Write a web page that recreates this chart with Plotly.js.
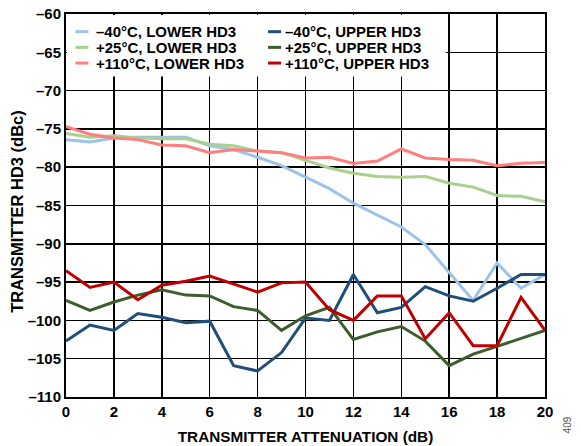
<!DOCTYPE html>
<html><head><meta charset="utf-8">
<script src="https://cdn.plot.ly/plotly-3.0.1.min.js"></script>
<style>html,body{margin:0;padding:0;background:#fff}#chart{width:581px;height:446px}</style>
</head><body><div id="chart"></div>
<script>
const attenuation = [0,1,2,3,4,5,6,7,8,9,10,11,12,13,14,15,16,17,18,19,20];
const lowerM40 = [-76.4,-76.7,-76.2,-76.1,-76.1,-76.1,-77.2,-77.7,-78.7,-79.8,-81.3,-82.8,-84.7,-86.3,-87.8,-90.1,-93.7,-97.4,-92.5,-95.8,-94.0];
const lowerP25 = [-75.6,-76.1,-75.9,-76.2,-76.3,-76.3,-77.0,-77.2,-77.9,-78.1,-79.1,-80.1,-80.8,-81.2,-81.3,-81.2,-82.1,-82.6,-83.7,-83.8,-84.5];
const lowerP110 = [-74.7,-75.7,-76.2,-76.4,-77.1,-77.2,-78.1,-77.7,-77.9,-78.1,-78.8,-78.7,-79.5,-79.2,-77.6,-78.8,-79.0,-79.1,-79.8,-79.5,-79.4];
const upperM40 = [-102.7,-100.6,-101.3,-99.1,-99.6,-100.3,-100.1,-105.9,-106.6,-104.2,-99.7,-100.0,-94.0,-99.0,-98.3,-95.6,-96.8,-97.5,-95.8,-94.0,-94.0];
const upperP25 = [-97.4,-98.7,-97.6,-96.7,-96.0,-96.7,-96.8,-98.2,-98.7,-101.3,-99.4,-98.3,-102.5,-101.5,-100.8,-102.7,-105.9,-104.4,-103.4,-102.4,-101.3];
const upperP110 = [-93.5,-95.7,-95.0,-97.3,-95.4,-94.9,-94.2,-95.3,-96.3,-95.1,-95.0,-98.6,-100.0,-96.8,-96.8,-102.4,-99.0,-103.3,-103.3,-97.0,-101.3];
const names = ['\u201340°C, LOWER HD3','\u201340°C, UPPER HD3','+25°C, LOWER HD3','+25°C, UPPER HD3','+110°C, LOWER HD3','+110°C, UPPER HD3'];
const series = [lowerM40, upperM40, lowerP25, upperP25, lowerP110, upperP110];
const colors = ['#9dc3e6','#1f4e79','#a9d18e','#3b5e2b','#ff7f7f','#c00000'];
const xTicks = [0,2,4,6,8,10,12,14,16,18,20];
const yTicks = [-110,-105,-100,-95,-90,-85,-80,-75,-70,-65,-60];
const yTickText = yTicks.map(v => v < 0 ? '\u2013' + Math.abs(v) : String(v));
const xTitle = 'TRANSMITTER ATTENUATION (dB)';
const yTitle = 'TRANSMITTER HD3 (dBc)';

const traces = series.map((s,i) => ({
  x: attenuation, y: s, name: names[i], type: 'scatter', mode: 'lines',
  line: {color: colors[i], width: 3}, showlegend: false
}));

// custom legend (two columns, three rows) in pixel-derived paper coordinates
const W = 480, H = 383.5, L = 65.5, T = 13.5;
const px = x => (x - L) / W;
const py = y => 1 - (y - T) / H;
const legCols = [{s0: 75, s1: 88, tx: 95}, {s0: 268, s1: 281, tx: 284}];
const legRows = [31.2, 46.9, 62.6];
const shapes = [{
  type: 'rect', xref: 'paper', yref: 'paper', layer: 'above',
  x0: px(66.5), x1: px(446), y0: py(76), y1: py(14.5),
  fillcolor: '#fff', line: {width: 0}
}];
const annotations = [];
names.forEach((n, i) => {
  const c = legCols[i % 2], r = legRows[Math.floor(i / 2)];
  shapes.push({type: 'line', xref: 'paper', yref: 'paper', layer: 'above',
    x0: px(c.s0), x1: px(c.s1), y0: py(r), y1: py(r), line: {color: colors[i], width: 3}});
  annotations.push({text: n, xref: 'paper', yref: 'paper', x: px(c.tx), y: py(r),
    xanchor: 'left', yanchor: 'middle', showarrow: false, height: 15, borderpad: 0,
    font: {size: 15, weight: 700, color: '#000'}});
});
annotations.push({
  text: yTitle, xref: 'paper', yref: 'paper', x: px(17), y: py(211),
  showarrow: false, textangle: -90, font: {size: 16.5, weight: 700, color: '#000'},
  xanchor: 'center', yanchor: 'middle'
});
annotations.push({
  text: '409', xref: 'paper', yref: 'paper', x: px(569), y: py(425),
  showarrow: false, textangle: -90, font: {size: 10, color: '#555', weight: 400},
  xanchor: 'center', yanchor: 'middle'
});

const font = {family: 'Arial, Liberation Sans, sans-serif', size: 15, color: '#000', weight: 700};
const layout = {
  width: 581, height: 446,
  margin: {l: L, r: 581 - L - W, t: T, b: 446 - T - H},
  paper_bgcolor: '#fff', plot_bgcolor: '#fff',
  font: font,
  showlegend: false,
  xaxis: {
    range: [0, 20], tickvals: xTicks, ticktext: xTicks.map(String),
    showgrid: true, gridcolor: '#000', gridwidth: 1.5,
    showline: true, linecolor: '#000', linewidth: 2, mirror: true,
    zeroline: false, ticks: '', tickfont: {size: 15, weight: 700},
    title: {text: xTitle, font: {size: 15.3, weight: 700}, standoff: 12}
  },
  yaxis: {
    range: [-110, -60], tickvals: yTicks, ticktext: yTickText,
    showgrid: true, gridcolor: '#000', gridwidth: 1.5,
    showline: true, linecolor: '#000', linewidth: 2, mirror: true,
    zeroline: false, ticks: '', tickfont: {size: 15, weight: 700}
  },
  shapes: shapes,
  annotations: annotations
};
Plotly.newPlot('chart', traces, layout, {displayModeBar: false, staticPlot: true});
</script></body></html>
